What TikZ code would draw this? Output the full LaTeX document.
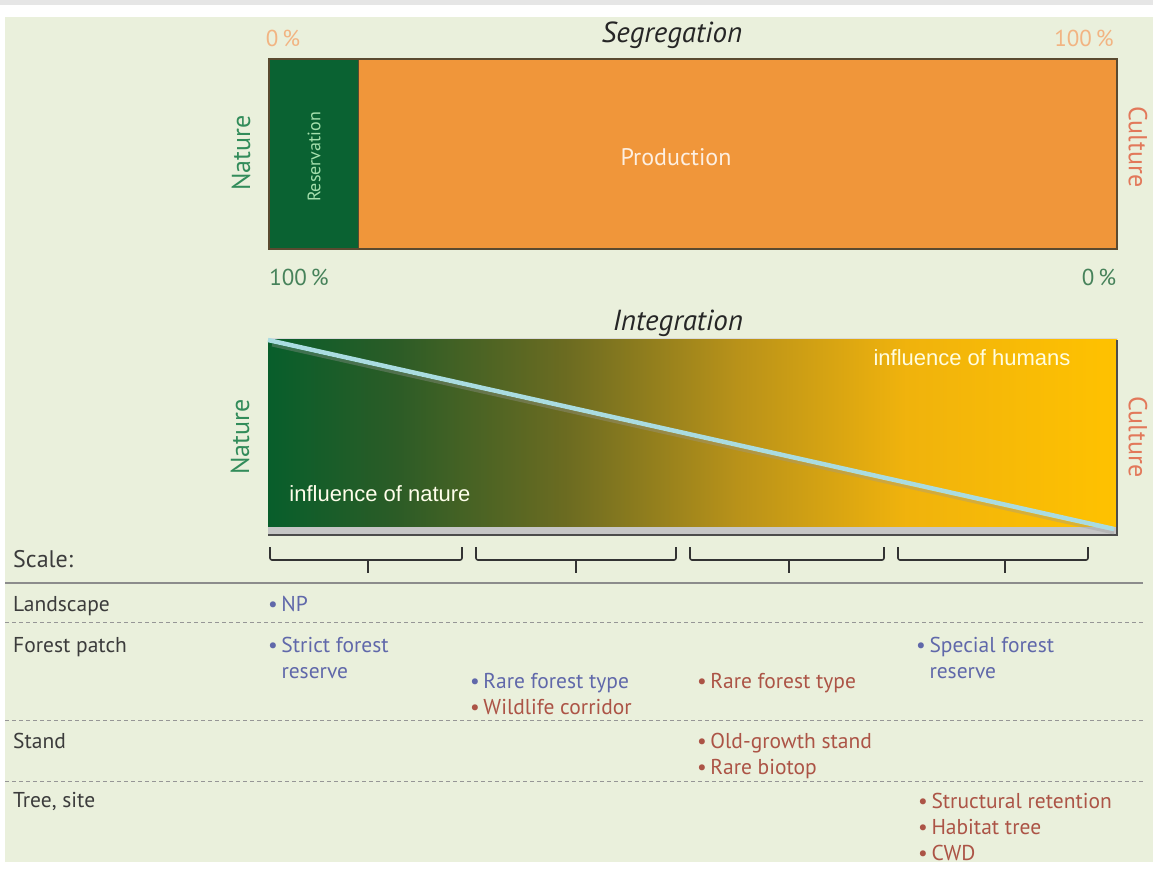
\documentclass[tikz,border=0pt]{standalone}
\usepackage{fontspec}
\setmainfont{PT Sans}
\setsansfont{PT Sans}
\newfontfamily\arialf{Liberation Sans}
\definecolor{bg}{RGB}{234,240,220}
\definecolor{topgray}{RGB}{230,230,230}
\definecolor{resgreen}{RGB}{10,98,50}
\definecolor{prodorange}{RGB}{240,150,58}
\definecolor{boxedge}{RGB}{90,74,48}
\definecolor{natgreen}{RGB}{50,140,90}
\definecolor{culred}{RGB}{226,120,90}
\definecolor{pctorange}{RGB}{242,180,130}
\definecolor{pctgreen}{RGB}{70,130,90}
\definecolor{itemblue}{RGB}{96,104,170}
\definecolor{itemred}{RGB}{172,84,70}
\definecolor{rowtext}{RGB}{60,60,60}
\definecolor{diag}{RGB}{170,220,225}
\definecolor{rowline}{RGB}{150,150,150}
% TikZ maps the path's bounding box onto 25bp..75bp of the shading
\pgfdeclarehorizontalshading{natcul}{100bp}{
  rgb(0bp)=(0.03,0.37,0.17);
  rgb(25bp)=(0.03,0.37,0.17);
  rgb(32.5bp)=(0.17,0.36,0.15);
  rgb(42.5bp)=(0.42,0.42,0.13);
  rgb(52.5bp)=(0.72,0.57,0.10);
  rgb(62.5bp)=(0.94,0.70,0.05);
  rgb(75bp)=(1.0,0.76,0.0);
  rgb(100bp)=(1.0,0.76,0.0)}
\tikzset{
  pct/.style={font=\sffamily\fontsize{23}{26}\selectfont},
  sidelbl/.style={font=\sffamily\fontsize{26}{30}\selectfont},
  title/.style={font=\sffamily\itshape\fontsize{29}{32}\selectfont, text=black!85},
  rowlbl/.style={anchor=base west, font=\sffamily\fontsize{21.5}{24}\selectfont, text=rowtext, inner sep=0pt},
  item/.style={anchor=base west, font=\sffamily\fontsize{21.5}{24}\selectfont, inner sep=0pt},
  bracket/.style={draw=black!80, line width=1.6pt, rounded corners=2pt},
  dashrow/.style={draw=rowline, line width=0.9pt, dash pattern=on 4pt off 3pt},
}
\begin{document}
\begin{tikzpicture}[x=1pt,y=-1pt]
\useasboundingbox (0,0) rectangle (1153,880);
% background
\fill[white] (0,0) rectangle (1153,880);
\fill[topgray] (0,0) rectangle (1153,5);
\fill[bg] (5,17) rectangle (1153,862);

% ---------- Segregation ----------
\node[title] (segt) at (672,35) {Segregation};
\node[pct, text=pctorange] (p0top) at (283,38) {0\,\%};
\node[pct, text=pctorange] (p100top) at (1084,38) {100\,\%};
\fill[resgreen] (269,59) rectangle (358,249);
\fill[prodorange] (358,59) rectangle (1117,249);
\draw[boxedge, line width=1.3pt] (269,59) rectangle (1117,249);
\draw[boxedge, line width=0.8pt] (358,59) -- (358,249);
\node[rotate=90, text=green!20!white!80!resgreen, font=\sffamily\fontsize{18}{20}\selectfont] (res) at (314,157) {Reservation};
\node[text=white!85!prodorange, font=\sffamily\fontsize{24}{28}\selectfont] (prod) at (676,157) {Production};
\node[sidelbl, rotate=90, text=natgreen] (nat1) at (241,153) {Nature};
\node[sidelbl, rotate=-90, text=culred] (cul1) at (1138,147) {Culture};
\node[pct, text=pctgreen] (p100bot) at (299,277) {100\,\%};
\node[pct, text=pctgreen] (p0bot) at (1099,277) {0\,\%};

% ---------- Integration ----------
\node[title] (intt) at (678,323) {Integration};
\shade[shading=natcul] (268,338) rectangle (1117,528);
\fill[gray!45] (268,527) rectangle (1117,534);
\draw[black!70, line width=1.2pt] (268,535) -- (1117,535) -- (1117,340);
\draw[white!70!gray, line width=1pt] (268,338) -- (1117,338);
\draw[black!40, line width=3pt, opacity=0.35] (272,345) -- (1114,533);
\draw[diag, line width=4.5pt] (268,340) -- (1114,529);
\node[text=white!92!yellow, font=\arialf\fontsize{22}{26}\selectfont] (infn) at (380,494) {influence of nature};
\node[text=white!88!yellow, font=\arialf\fontsize{22}{26}\selectfont] (infh) at (972,358) {influence of humans};
\node[sidelbl, rotate=90, text=natgreen] (nat2) at (240,437) {Nature};
\node[sidelbl, rotate=-90, text=culred] (cul2) at (1138,437) {Culture};

% ---------- Scale brackets ----------
\foreach \a/\b/\m in {270/462/368, 476/676/576, 690/884/789, 898/1088/1005}{
  \draw[bracket] (\a,547) -- (\a,560) -- (\b,560) -- (\b,547);
  \draw[black!80, line width=1.6pt] (\m,560) -- (\m,573);
}

% ---------- Table ----------
\node[anchor=base west, font=\sffamily\fontsize{24}{28}\selectfont, text=rowtext, inner sep=0pt] (scale) at (13,567) {Scale:};
\draw[black!45, line width=1.3pt] (5,583) -- (1143,583);
\node[rowlbl] (land) at (13,611) {Landscape};
\draw[dashrow] (5,622) -- (1143,622);
\node[rowlbl] (patch) at (13,652) {Forest patch};
\draw[dashrow] (5,720) -- (1143,720);
\node[rowlbl] (stand) at (13,748) {Stand};
\draw[dashrow] (5,781) -- (1143,781);
\node[rowlbl] (tree) at (13,807) {Tree, site};

\node[item, text=itemblue] (np) at (268,611) {•\,NP};
\node[item, text=itemblue] (strict1) at (268,652) {•\,Strict forest};
\node[item, text=itemblue] (strict2) at (268,678) {\hphantom{•\,}reserve};
\node[item, text=itemblue] (rare1) at (470,688) {•\,Rare forest type};
\node[item, text=itemred] (wild) at (470,714) {•\,Wildlife corridor};
\node[item, text=itemred] (rare2) at (697,688) {•\,Rare forest type};
\node[item, text=itemblue] (special1) at (916,652) {•\,Special forest};
\node[item, text=itemblue] (special2) at (916,678) {\hphantom{•\,}reserve};
\node[item, text=itemred] (old) at (697,748) {•\,Old-growth stand};
\node[item, text=itemred] (biotop) at (697,774) {•\,Rare biotop};
\node[item, text=itemred] (struct) at (918,808) {•\,Structural retention};
\node[item, text=itemred] (habitat) at (918,834) {•\,Habitat tree};
\node[item, text=itemred] (cwd) at (918,860) {•\,CWD};
\end{tikzpicture}
\end{document}
